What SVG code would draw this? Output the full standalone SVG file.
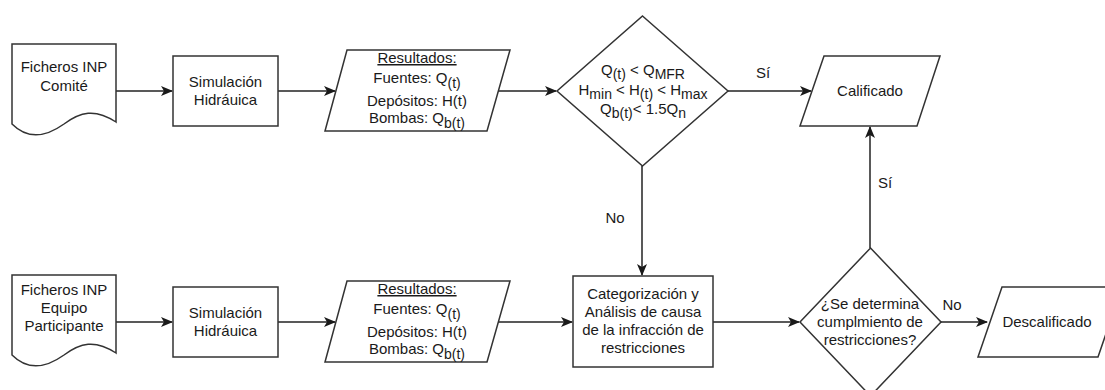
<svg xmlns="http://www.w3.org/2000/svg" width="1105" height="390" viewBox="0 0 1105 390">
<defs>
<marker id="arr" viewBox="0 0 12 10" refX="11" refY="5" markerWidth="12" markerHeight="10" markerUnits="userSpaceOnUse" orient="auto">
<path d="M0,0 L12,5 L0,10 L3,5 Z" fill="#1a1a1a"/>
</marker>
<style>
.s{fill:#fff;stroke:#333;stroke-width:1.5}
.c{fill:none;stroke:#222;stroke-width:1.5;marker-end:url(#arr)}
text{font-family:"Liberation Sans",Arial,sans-serif;font-size:15px;fill:#1a1a1a;text-anchor:middle}
.sb{font-size:14px}
</style>
</defs>
<rect width="1105" height="390" fill="#fff"/>
<g id="connectors">
<line class="c" x1="116" y1="91" x2="172" y2="91"/>
<line class="c" x1="278" y1="91" x2="335" y2="91"/>
<line class="c" x1="498" y1="91" x2="556" y2="91"/>
<line class="c" x1="728" y1="91" x2="811" y2="91"/>
<line class="c" x1="642" y1="166" x2="642" y2="275"/>
<line class="c" x1="116" y1="322" x2="172" y2="322"/>
<line class="c" x1="278" y1="322" x2="335" y2="322"/>
<line class="c" x1="498" y1="322" x2="572" y2="322"/>
<line class="c" x1="713" y1="322" x2="799" y2="322"/>
<line class="c" x1="941" y1="322" x2="987" y2="322"/>
<line class="c" x1="870" y1="248" x2="870" y2="127"/>
<text x="763" y="78">Sí</text>
<text x="615" y="223">No</text>
<text x="885" y="188">Sí</text>
<text x="952" y="310">No</text>
</g>
<g id="doc1">
<path class="s" d="M12,44 H116 V122 C95,108 80,112 64,124 C50,134 30,142 12,124 Z"/>
<text x="64" y="72">Ficheros INP</text>
<text x="64" y="91">Comité</text>
</g>
<g id="sim1">
<rect class="s" x="173" y="56" width="105" height="70"/>
<text x="225.5" y="87">Simulación</text>
<text x="225.5" y="105">Hidráuica</text>
</g>
<g id="res1">
<path class="s" d="M347,50 H510 L487,131 H325 Z"/>
<text x="417" y="63" text-decoration="underline">Resultados:</text>
<text x="417" y="83">Fuentes: Q<tspan class="sb" dy="5">(t)</tspan></text>
<text x="417" y="106">Depósitos: H(t)</text>
<text x="417" y="123">Bombas: Q<tspan class="sb" dy="5">b(t)</tspan></text>
</g>
<g id="dec1">
<path class="s" d="M642.5,16 L728,91 L642.5,166 L557,91 Z"/>
<text x="643" y="75">Q<tspan class="sb" dy="4">(t)</tspan><tspan dy="-4"> &lt; Q</tspan><tspan class="sb" dy="4">MFR</tspan></text>
<text x="643" y="95">H<tspan class="sb" dy="4">min</tspan><tspan dy="-4"> &lt; H</tspan><tspan class="sb" dy="4">(t)</tspan><tspan dy="-4"> &lt; H</tspan><tspan class="sb" dy="4">max</tspan></text>
<text x="643" y="114">Q<tspan class="sb" dy="4">b(t)</tspan><tspan dy="-4">&lt; 1.5Q</tspan><tspan class="sb" dy="4">n</tspan></text>
</g>
<g id="calificado">
<path class="s" d="M824,56 H940 L917,126 H800 Z"/>
<text x="870" y="96">Calificado</text>
</g>
<g id="doc2">
<path class="s" d="M12,275 H116 V353 C95,339 80,343 64,355 C50,365 30,373 12,355 Z"/>
<text x="64" y="295">Ficheros INP</text>
<text x="64" y="313">Equipo</text>
<text x="64" y="331">Participante</text>
</g>
<g id="sim2">
<rect class="s" x="173" y="287" width="105" height="70"/>
<text x="225.5" y="318">Simulación</text>
<text x="225.5" y="336">Hidráuica</text>
</g>
<g id="res2">
<path class="s" d="M347,281 H510 L487,362 H325 Z"/>
<text x="417" y="294" text-decoration="underline">Resultados:</text>
<text x="417" y="314">Fuentes: Q<tspan class="sb" dy="5">(t)</tspan></text>
<text x="417" y="337">Depósitos: H(t)</text>
<text x="417" y="354">Bombas: Q<tspan class="sb" dy="5">b(t)</tspan></text>
</g>
<g id="categorizacion">
<rect class="s" x="573" y="276" width="140" height="91"/>
<text x="643" y="299">Categorización y</text>
<text x="643" y="317">Análisis de causa</text>
<text x="643" y="335">de la infracción de</text>
<text x="643" y="353">restricciones</text>
</g>
<g id="dec2">
<path class="s" d="M870.5,248 L941,322 L870.5,396 L800,322 Z"/>
<text x="870" y="309">¿Se determina</text>
<text x="870" y="327">cumplmiento de</text>
<text x="870" y="345">restricciones?</text>
</g>
<g id="descalificado">
<path class="s" d="M1002,287 H1122 L1098,357 H978 Z"/>
<text x="1047" y="327">Descalificado</text>
</g>
</svg>
